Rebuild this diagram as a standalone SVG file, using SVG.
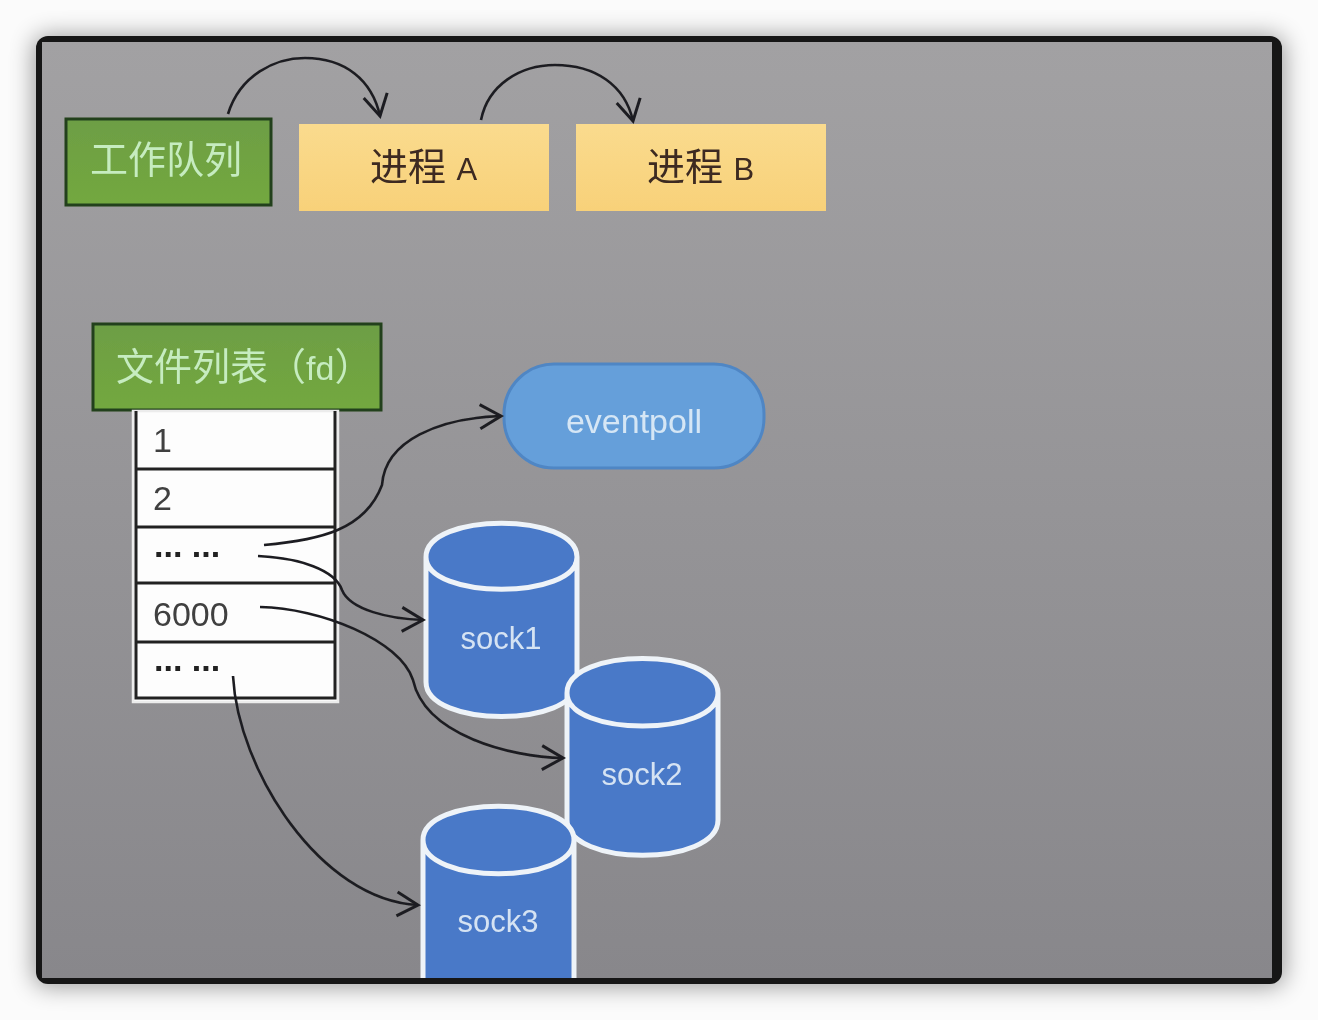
<svg xmlns="http://www.w3.org/2000/svg" width="1318" height="1020" viewBox="0 0 1318 1020">
<defs>
<linearGradient id="bg" x1="0" y1="0" x2="0" y2="1"><stop offset="0" stop-color="#a2a1a3"/><stop offset="1" stop-color="#88878b"/></linearGradient>
<linearGradient id="green" x1="0" y1="0" x2="0" y2="1"><stop offset="0" stop-color="#6d9e45"/><stop offset="1" stop-color="#73a83f"/></linearGradient>
<linearGradient id="yellow" x1="0" y1="0" x2="0" y2="1"><stop offset="0" stop-color="#fadb8e"/><stop offset="1" stop-color="#f8d179"/></linearGradient>
<filter id="shadow" x="-5%" y="-5%" width="110%" height="110%"><feGaussianBlur stdDeviation="12"/></filter>
<filter id="soft" x="-5%" y="-5%" width="110%" height="110%"><feGaussianBlur stdDeviation="0.6"/></filter>
<marker id="arrow" markerUnits="userSpaceOnUse" markerWidth="30" markerHeight="30" refX="24" refY="12" viewBox="0 0 30 24" orient="auto"><path d="M3 0 L24 12 L3 24" fill="none" stroke="#1f1f21" stroke-width="3"/></marker>
<clipPath id="frame"><rect x="42" y="42" width="1230" height="936"/></clipPath>
</defs>
<style>
.cjk{font-family:"Liberation Sans","Noto Sans CJK SC",sans-serif}
.g{fill:url(#green);stroke:#22401c;stroke-width:3}
.y{fill:url(#yellow)}
.line{stroke:#222;stroke-width:3;fill:none}
.cyl{fill:#4a79c8;stroke:#eef3f8;stroke-width:5}
.wt{fill:#c6ecc0;font-size:38px}
.dk{fill:#3c2a20;font-size:38px}
.num{fill:#3f3f3f;font-size:34px;font-family:"Liberation Sans",sans-serif}
.dots{fill:#222;font-size:34px;font-family:"Liberation Sans",sans-serif;font-weight:bold}
.sock{fill:#d5e3f3;font-size:31px;font-family:"Liberation Sans",sans-serif;text-anchor:middle}
.c{fill:none;stroke:#1f1f21;stroke-width:2.6}
</style>
<rect width="1318" height="1020" fill="#fbfbfb"/>
<rect x="34" y="36" width="1250" height="950" rx="12" fill="#000" opacity="0.4" filter="url(#shadow)"/>
<rect x="36" y="36" width="1246" height="948" rx="12" fill="#161616"/>
<rect x="42" y="42" width="1230" height="936" fill="url(#bg)"/>
<g filter="url(#soft)">
<g id="work-queue"><rect class="g" x="66" y="119" width="205" height="86"/><text class="cjk wt" x="90" y="173" textLength="152">工作队列</text></g>
<g id="process-a"><rect class="y" x="299" y="124" width="250" height="87"/><text class="cjk dk" x="370" y="180">进程 <tspan font-size="31">A</tspan></text></g>
<g id="process-b"><rect class="y" x="576" y="124" width="250" height="87"/><text class="cjk dk" x="647" y="180">进程 <tspan font-size="31">B</tspan></text></g>
<g id="file-list-header"><rect class="g" x="93" y="324" width="288" height="86"/><text class="cjk wt" x="116" y="380">文件列表（<tspan font-size="34">fd</tspan>）</text></g>
<g id="file-list">
<rect x="133" y="411" width="205" height="291" fill="#fdfdfd" stroke="#ececec" stroke-width="2.5"/>
<path class="line" d="M136 411 V698 H335 V411 M136 469 H335 M136 527 H335 M136 583 H335 M136 642 H335"/>
<text class="num" x="153" y="452">1</text>
<text class="num" x="153" y="510">2</text>
<text class="dots" x="154" y="557">... ...</text>
<text class="num" x="153" y="626">6000</text>
<text class="dots" x="154" y="671">... ...</text>
</g>
<g id="eventpoll"><rect x="504" y="364" width="260" height="104" rx="50" fill="#659fda" stroke="#4f86c4" stroke-width="3"/><text x="634" y="433" fill="#d5e6f5" font-size="34" text-anchor="middle" font-family="Liberation Sans,sans-serif">eventpoll</text></g>
<g id="sock1"><path class="cyl" d="M426 557 V682 C426 728 577 728 577 682 V557 C577 512 426 512 426 557 C426 600 577 600 577 557"/><text class="sock" x="501" y="649">sock1</text></g>
<g id="sock2"><path class="cyl" d="M567 693 V820 C567 867 718 867 718 820 V693 C718 647 567 647 567 693 C567 737 718 737 718 693"/><text class="sock" x="642" y="785">sock2</text></g>
<g id="sock3" clip-path="url(#frame)"><path class="cyl" d="M423 840 V990 H574 V840 C574 795 423 795 423 840 C423 885 574 885 574 840"/><text class="sock" x="498" y="932">sock3</text></g>
</g>
<g id="connectors" filter="url(#soft)">
<path class="c" marker-end="url(#arrow)" d="M228 114 C240 75 275 58 305 58 C345 58 372 80 380 116"/>
<path class="c" marker-end="url(#arrow)" d="M481 120 C488 85 520 65 555 65 C595 65 625 85 633 121"/>
<path class="c" marker-end="url(#arrow)" d="M264 545 C320 540 365 530 382 485 C385 440 440 418 501 416"/>
<path class="c" marker-end="url(#arrow)" d="M258 556 C300 558 335 570 342 590 C350 610 390 619 423 620"/>
<path class="c" marker-end="url(#arrow)" d="M260 607 C320 608 400 640 413 680 C425 735 510 757 563 758"/>
<path class="c" marker-end="url(#arrow)" d="M233 676 C238 770 320 900 418 905"/>
</g>
</svg>
